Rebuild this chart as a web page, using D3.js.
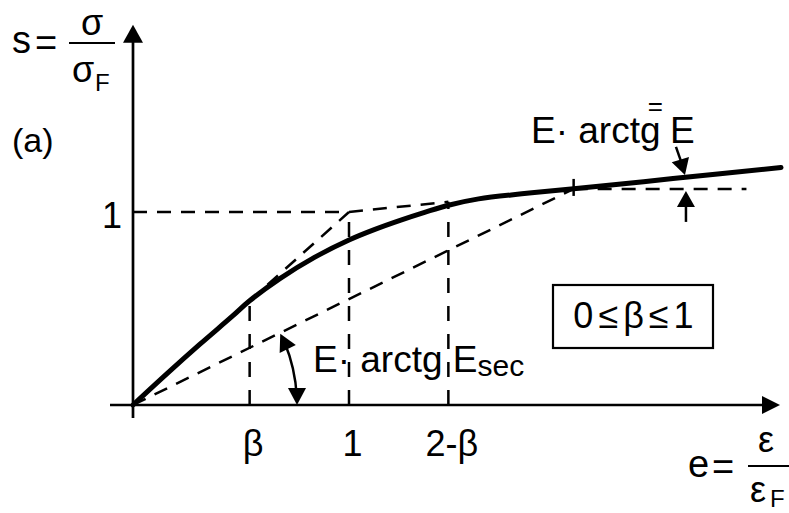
<!DOCTYPE html>
<html>
<head>
<meta charset="utf-8">
<script src="https://cdn.jsdelivr.net/npm/d3@7"></script>
<style>
  html, body { margin: 0; padding: 0; background: #fff; }
  svg { display: block; }
  text { font-family: "Liberation Sans", Arial, sans-serif; fill: #000; }
</style>
</head>
<body>
<svg id="chart" width="789" height="513"></svg>
<script>
// Normalised stress-strain law: linear up to beta, smooth transition, then linear hardening
const beta = 0.54;          // end of the linear-elastic branch
const hardening = 0.115;    // tangent modulus E-bar after yield
const secantStrain = 2.04;  // strain where the secant modulus is taken
const xMax = 3.0;           // end of the strain axis
const yMax = 1.97;          // end of the stress axis

const strain = [0, 0.16, 0.31, 0.46, 0.54, 0.68, 0.84, 1.0, 1.12, 1.24, 1.35, 1.46, 1.6, 1.8, 2.04, 2.5, 3.0];
const stress = [0, 0.165, 0.315, 0.46, 0.54, 0.655, 0.765, 0.855, 0.91, 0.958, 0.998, 1.035, 1.068, 1.094, 1.12, 1.173, 1.23];

const xTickValues = [beta, 1, 2 - beta];
const xTickLabels = ["β", "1", "2-β"];
const yTickValues = [1];
const yTickLabels = ["1"];

const svg = d3.select("#chart");
const FONT = 36;

const x = d3.scaleLinear().domain([0, xMax]).range([133, 781]);
const y = d3.scaleLinear().domain([0, 1]).range([405, 212]);

const hardLine = e => 1 + hardening * (e - 1);
const sSec = hardLine(secantStrain);

// ---- dashed construction lines ----
const dashH = "14,10", dashV = "15,13", dashD = "14,10";
const guides = svg.append("g").attr("fill", "none").attr("stroke", "#000").attr("stroke-width", 2.5);
function guide(p0, p1, dash) {
  guides.append("line")
    .attr("x1", x(p0[0])).attr("y1", y(p0[1]))
    .attr("x2", x(p1[0])).attr("y2", y(p1[1]))
    .attr("stroke-dasharray", dash);
}
guide([0, 1], [1, 1], dashH);                               // s = 1 level
guide([beta, 0], [beta, beta], dashV);                      // at beta
guide([1, 0], [1, 1], dashV);                               // at e = 1
guide([2 - beta, 0], [2 - beta, hardLine(2 - beta)], dashV); // at 2 - beta
guide([beta, beta], [1, 1], dashD);                         // elastic branch
guide([1, 1], [2 - beta, hardLine(2 - beta)], dashD);       // hardening branch
guide([0, 0], [secantStrain, sSec], dashD);                 // secant
guide([secantStrain, sSec], [2.84, sSec], dashH);           // level at secant point

// ---- stress-strain curve ----
const line = d3.line().x(d => x(d[0])).y(d => y(d[1])).curve(d3.curveCatmullRom.alpha(0.5));
svg.append("path")
  .datum(d3.zip(strain, stress))
  .attr("d", line)
  .attr("fill", "none").attr("stroke", "#000").attr("stroke-width", 5)
  .attr("stroke-linecap", "round").attr("stroke-linejoin", "round");

// mark at the secant point
svg.append("line")
  .attr("x1", x(secantStrain)).attr("x2", x(secantStrain))
  .attr("y1", y(sSec) - 10).attr("y2", y(sSec) + 7)
  .attr("stroke", "#000").attr("stroke-width", 2.5);

// ---- axes with arrow heads ----
const ax = svg.append("g").attr("stroke", "#000").attr("stroke-width", 2.7);
ax.append("line").attr("x1", x(0) - 23).attr("x2", x(xMax) - 16).attr("y1", y(0)).attr("y2", y(0));
ax.append("line").attr("x1", x(0)).attr("x2", x(0)).attr("y1", y(0) + 13).attr("y2", y(yMax) + 16);

function arrowHead(tipX, tipY, dirX, dirY, len, half) {
  const n = Math.hypot(dirX, dirY); const ux = dirX / n, uy = dirY / n;
  const bx = tipX - ux * len, by = tipY - uy * len;
  const pts = [[tipX, tipY], [bx - uy * half, by + ux * half], [bx + uy * half, by - ux * half]];
  svg.append("path").attr("d", "M" + pts.map(p => p.join(",")).join("L") + "Z").attr("fill", "#000");
}
arrowHead(x(xMax) - 1, y(0), 1, 0, 18, 9);
arrowHead(x(0), y(yMax), 0, -1, 18, 10);

// tick labels
const xAxis = d3.axisBottom(x).tickValues(xTickValues)
  .tickFormat((d, i) => xTickLabels[i]).tickSize(0).tickPadding(25);
const gx = svg.append("g").attr("transform", `translate(0,${y(0)})`).call(xAxis);
gx.select(".domain").remove();
gx.selectAll("text").attr("font-size", FONT).attr("font-family", null).attr("dx", 3);

const yAxis = d3.axisLeft(y).tickValues(yTickValues)
  .tickFormat((d, i) => yTickLabels[i]).tickSize(0).tickPadding(11);
const gy = svg.append("g").attr("transform", `translate(${x(0)},0)`).call(yAxis);
gy.select(".domain").remove();
gy.selectAll("text").attr("font-size", FONT).attr("font-family", null).attr("dy", "0.44em");
gx.attr("font-size", null).attr("font-family", null);
gy.attr("font-size", null).attr("font-family", null);

// ---- angle marker for the secant modulus ----
const R = 164;
const ang = Math.atan2(y(0) - y(sSec), x(secantStrain) - x(0));
const arcPath = d3.path();
arcPath.arc(x(0), y(0), R, -0.05, -ang + 0.06, true);
svg.append("path").attr("d", arcPath.toString())
  .attr("fill", "none").attr("stroke", "#000").attr("stroke-width", 2.5);
arrowHead(x(0) + R, y(0), 0, 1, 17, 9);
arrowHead(x(0) + R * Math.cos(ang), y(0) - R * Math.sin(ang) + 1, -Math.sin(ang), -Math.cos(ang), 17, 9);

// ---- arrows for the tangent modulus ----
const eArrow = 2.56;
const tipTop = y(hardLine(eArrow)) - 2.5;
svg.append("line").attr("x1", x(eArrow) - 10).attr("y1", tipTop - 28)
  .attr("x2", x(eArrow) - 3).attr("y2", tipTop - 8)
  .attr("stroke", "#000").attr("stroke-width", 2.5);
arrowHead(x(eArrow) - 1, tipTop, 0.3, 1, 16, 9);
const tipBot = y(sSec) + 2;
svg.append("line").attr("x1", x(eArrow)).attr("y1", tipBot + 31)
  .attr("x2", x(eArrow)).attr("y2", tipBot + 10)
  .attr("stroke", "#000").attr("stroke-width", 2.5);
arrowHead(x(eArrow), tipBot, 0, -1, 16, 9);

// ---- labels ----
function txt(t, px, py, size, anchor) {
  return svg.append("text").attr("x", px).attr("y", py)
    .attr("font-size", size).attr("text-anchor", anchor || "start").text(t);
}
// s = sigma / sigma_F
txt("s", 12, 53, 38);
txt("=", 35, 56, 38);
svg.append("line").attr("x1", 69).attr("x2", 115).attr("y1", 43).attr("y2", 43)
  .attr("stroke", "#000").attr("stroke-width", 2);
txt("σ", 92, 35, 36, "middle");
txt("σ", 83, 82, 36, "middle");
txt("F", 95, 91, 24);

// (a)
txt("(a)", 12, 152, 34);

// e = epsilon / epsilon_F
txt("e", 688, 477, 38);
txt("=", 712, 480, 38);
svg.append("line").attr("x1", 748).attr("x2", 789).attr("y1", 466).attr("y2", 466)
  .attr("stroke", "#000").attr("stroke-width", 2);
txt("ε", 766, 452, 36, "middle");
txt("ε", 758, 502, 36, "middle");
txt("F", 770, 507, 24);

// secant modulus label
const sec = txt("E· arctg E", 313, 372, 37);
sec.append("tspan").attr("font-size", 30).attr("dy", 4).text("sec");

// tangent modulus label, with the bar sign raised above
const tan = txt("E· arctg ", 531, 143, 37);
tan.append("tspan").attr("font-size", 26).attr("dx", -23).attr("dy", -28).text("=");
tan.append("tspan").attr("dx", 7).attr("dy", 28).text("E");

// range of beta
svg.append("rect").attr("x", 553).attr("y", 285).attr("width", 160).attr("height", 63)
  .attr("fill", "none").attr("stroke", "#000").attr("stroke-width", 2.2);
txt("0≤β≤1", 636, 328, 36, "middle").attr("letter-spacing", 5);
</script>
</body>
</html>
